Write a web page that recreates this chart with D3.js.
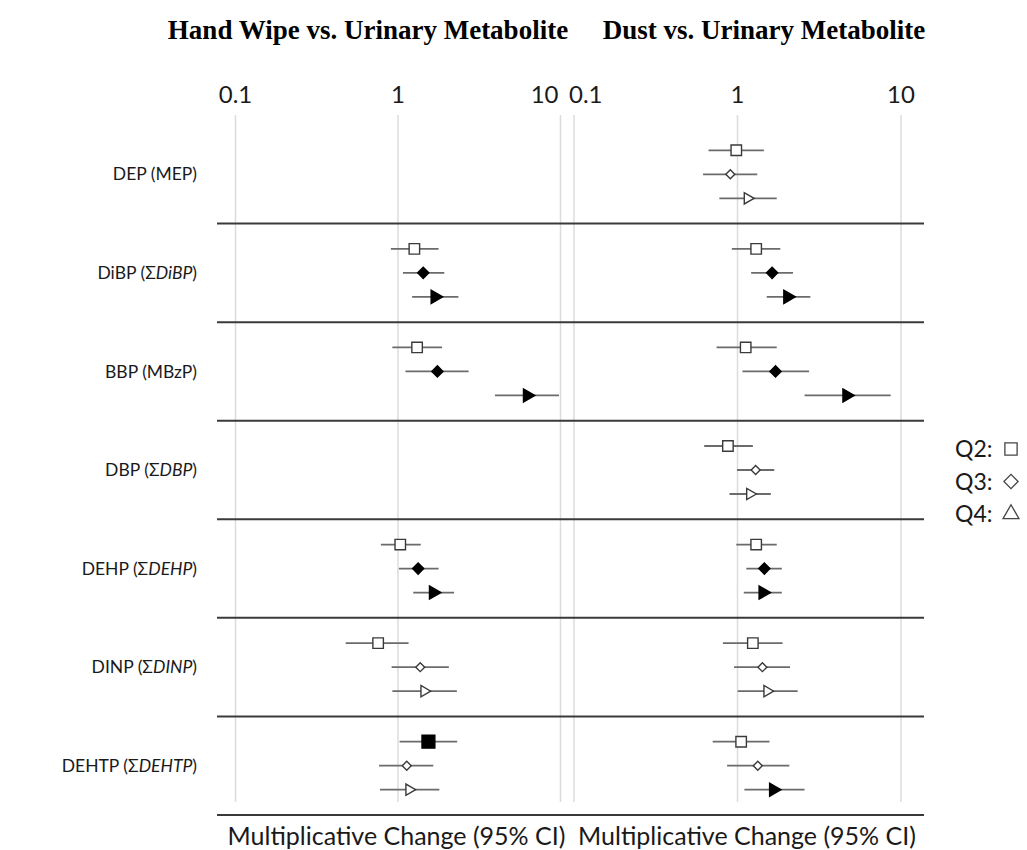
<!DOCTYPE html>
<html>
<head>
<meta charset="utf-8">
<script src="https://cdn.jsdelivr.net/npm/d3@7"></script>
<style>
    body { margin: 0; background: #fff; }
    svg text { font-family: Lato, "Open Sans", sans-serif; fill: #1a1a1a; }
    svg text.title { font-family: "Liberation Serif", "Times New Roman", serif; font-weight: bold; fill: #000; }
</style>
</head>
<body>
<div id="chart-area"></div>
<script>
/*
*    Forest plot - hand wipe / dust vs. urinary metabolite
*/

const chemicals   = ['DEP', 'DiBP', 'BBP', 'DBP', 'DEHP', 'DINP', 'DEHTP'];
const metabolites = ['MEP', 'ΣDiBP', 'MBzP', 'ΣDBP', 'ΣDEHP', 'ΣDINP', 'ΣDEHTP'];
const quartiles   = ['Q2', 'Q3', 'Q4'];
const tickValues  = [0.1, 1, 10];

// hand wipe: estimate / lower / upper per chemical, [Q2, Q3, Q4]
const handWipeEst  = [null, [1.27, 1.44, 1.70], [1.32, 1.76, 6.29], null, [1.04, 1.34, 1.66], [0.76, 1.38, 1.46], [1.55, 1.14, 1.18]];
const handWipeLow  = [null, [0.91, 1.08, 1.23], [0.93, 1.12, 3.98], null, [0.79, 1.02, 1.25], [0.48, 0.92, 0.93], [1.03, 0.77, 0.78]];
const handWipeHigh = [null, [1.79, 1.94, 2.37], [1.88, 2.74, 9.86], null, [1.39, 1.79, 2.23], [1.17, 2.07, 2.32], [2.33, 1.66, 1.81]];
const handWipeSig  = [null, [0, 1, 1], [0, 1, 1], null, [0, 1, 1], [0, 0, 0], [1, 0, 0]];

// dust
const dustEst  = [[0.99, 0.91, 1.16], [1.31, 1.64, 2.04], [1.13, 1.72, 4.69], [0.88, 1.30, 1.20], [1.31, 1.47, 1.44], [1.25, 1.43, 1.53], [1.06, 1.34, 1.67]];
const dustLow  = [[0.67, 0.62, 0.78], [0.93, 1.22, 1.52], [0.75, 1.08, 2.59], [0.63, 1.00, 0.90], [0.99, 1.14, 1.10], [0.82, 0.96, 1.01], [0.71, 0.87, 1.11]];
const dustHigh = [[1.46, 1.33, 1.75], [1.84, 2.20, 2.81], [1.75, 2.76, 8.71], [1.25, 1.69, 1.61], [1.75, 1.88, 1.88], [1.90, 2.11, 2.35], [1.58, 2.09, 2.59]];
const dustSig  = [[0, 0, 0], [0, 1, 1], [0, 1, 1], [0, 0, 0], [0, 1, 1], [0, 0, 0], [0, 0, 1]];

const WIDTH = 1027;
const HEIGHT = 850;
const GRID = {top: 115, bottom: 802};
const ROWS = {top: 125, bottom: 815};
const SEP = {left: 217, right: 924};

const panels = [
    {title: 'Hand Wipe vs. Urinary Metabolite', titleX: 368, range: [235, 560],
        est: handWipeEst, low: handWipeLow, high: handWipeHigh, sig: handWipeSig},
    {title: 'Dust vs. Urinary Metabolite', titleX: 764, range: [573.5, 900.5],
        est: dustEst, low: dustLow, high: dustHigh, sig: dustSig}
];

const svg = d3.select('#chart-area').append('svg')
    .attr('width', WIDTH)
    .attr('height', HEIGHT);

const yRow = d3.scaleBand()
    .domain(chemicals)
    .range([ROWS.top, ROWS.bottom]);

const yQ = d3.scalePoint()
    .domain(quartiles)
    .range([-24, 24]);

function markerPath(q, filled) {
    if (q === 'Q2') return d3.symbol(d3.symbolSquare, filled ? 165 : 110)();
    if (q === 'Q3') return d3.symbol(d3.symbolSquare, filled ? 62 : 40)();
    return d3.symbol(d3.symbolTriangle, filled ? 75 : 55)();
}
function markerRotate(q) {
    if (q === 'Q3') return 45;
    if (q === 'Q4') return 90;
    return 0;
}

// gridlines and axes, one per panel
panels.forEach((p, pi) => {
    const x = d3.scaleLog().domain([0.1, 10]).range(p.range);
    p.x = x;

    svg.append('text')
        .attr('class', 'title')
        .attr('x', p.titleX)
        .attr('y', 39)
        .attr('text-anchor', 'middle')
        .attr('font-size', '27px')
        .text(p.title);

    const axisGroup = svg.append('g')
        .attr('class', 'x-axis')
        .attr('transform', `translate(0, ${GRID.top})`)
        .call(d3.axisTop(x)
            .tickValues(tickValues)
            .tickFormat(d3.format(''))
            .tickSizeInner(-(GRID.bottom - GRID.top))
            .tickSizeOuter(0)
            .tickPadding(12));
    axisGroup.select('.domain').remove();
    axisGroup.selectAll('.tick line')
        .attr('stroke', '#dcdcdc')
        .attr('stroke-width', 1.5);
    axisGroup.selectAll('.tick text')
        .attr('font-size', '24px')
        .attr('font-family', null)
        .attr('fill', '#1a1a1a');

    // squeeze the touching labels at the panel seam
    if (pi === 0) {
        axisGroup.selectAll('.tick text').filter(d => d === 10)
            .attr('text-anchor', 'end').attr('dx', '-2');
    } else {
        axisGroup.selectAll('.tick text').filter(d => d === 0.1)
            .attr('text-anchor', 'start').attr('dx', '-5');
    }

    svg.append('text')
        .attr('x', (p.range[0] + p.range[1]) / 2 + (pi === 0 ? -1 : 10))
        .attr('y', 845)
        .attr('text-anchor', 'middle')
        .attr('font-size', '25px')
        .text('Multiplicative Change (95% CI)');
});

// row separators
svg.append('g')
    .attr('class', 'separators')
    .selectAll('line')
    .data(chemicals.slice(1).concat(['end']))
    .enter()
    .append('line')
    .attr('x1', SEP.left)
    .attr('x2', SEP.right)
    .attr('y1', d => d === 'end' ? ROWS.bottom : yRow(d))
    .attr('y2', d => d === 'end' ? ROWS.bottom : yRow(d))
    .attr('stroke', '#3a3a3a')
    .attr('stroke-width', 2);

// row labels
const labels = svg.append('g').attr('class', 'row-labels');
chemicals.forEach((c, i) => {
    const t = labels.append('text')
        .attr('x', 197)
        .attr('y', yRow(c) + yRow.bandwidth() / 2)
        .attr('dy', '0.35em')
        .attr('text-anchor', 'end')
        .attr('font-size', '17.5px');
    t.append('tspan').text(c + ' (');
    const m = metabolites[i];
    if (m.startsWith('Σ')) {
        t.append('tspan').text('Σ');
        t.append('tspan').attr('font-style', 'italic').text(m.slice(1));
    } else {
        t.append('tspan').text(m);
    }
    t.append('tspan').text(')');
});

// estimates with confidence intervals
panels.forEach(p => {
    const points = [];
    chemicals.forEach((c, i) => {
        if (!p.est[i]) return;
        quartiles.forEach((q, j) => {
            points.push({
                chemical: c, q: q,
                est: p.est[i][j], low: p.low[i][j], high: p.high[i][j],
                filled: p.sig[i][j] === 1
            });
        });
    });
    const rowY = d => yRow(d.chemical) + yRow.bandwidth() / 2 + yQ(d.q);

    const g = svg.append('g').attr('class', 'points');
    g.selectAll('line')
        .data(points)
        .enter()
        .append('line')
        .attr('x1', d => p.x(d.low))
        .attr('x2', d => p.x(d.high))
        .attr('y1', rowY)
        .attr('y2', rowY)
        .attr('stroke', '#6b6b6b')
        .attr('stroke-width', 1.8);

    g.selectAll('path')
        .data(points)
        .enter()
        .append('path')
        .attr('d', d => markerPath(d.q, d.filled))
        .attr('transform', d => `translate(${p.x(d.est)}, ${rowY(d)}) rotate(${markerRotate(d.q)})`)
        .attr('fill', d => d.filled ? '#000' : '#fff')
        .attr('stroke', d => d.filled ? '#000' : '#3a3a3a')
        .attr('stroke-width', 1.4);
});

// legend
const legendShapes = [
    {q: 'Q2', path: d3.symbol(d3.symbolSquare, 150)(), rot: 0},
    {q: 'Q3', path: d3.symbol(d3.symbolSquare, 100)(), rot: 45},
    {q: 'Q4', path: d3.symbol(d3.symbolTriangle, 110)(), rot: 0}
];
const legend = svg.append('g')
    .attr('class', 'legend')
    .attr('transform', 'translate(955, 457)');
legendShapes.forEach((s, i) => {
    const row = legend.append('g')
        .attr('transform', `translate(0, ${i * 32.5})`);
    row.append('text')
        .attr('font-size', '23px')
        .text(s.q + ':');
    row.append('path')
        .attr('d', s.path)
        .attr('transform', `translate(56, -8) rotate(${s.rot})`)
        .attr('fill', 'none')
        .attr('stroke', '#444')
        .attr('stroke-width', 1.3);
});
</script>
</body>
</html>
